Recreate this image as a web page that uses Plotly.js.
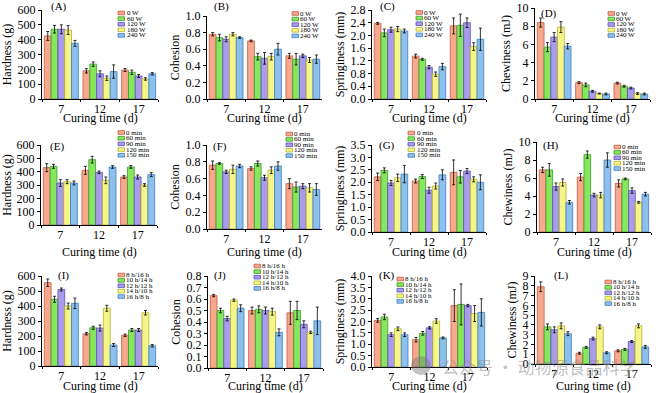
<!DOCTYPE html>
<html><head><meta charset="utf-8">
<script src="https://cdn.plot.ly/plotly-3.0.1.min.js"></script>
<style>html,body{margin:0;padding:0;background:#fff}#chart{width:660px;height:393px}</style>
</head><body><div id="chart"></div>
<script>
// ---------- data ----------
const categories = ['7', '12', '17'];
const powerNames = ['0 W', '60 W', '120 W', '180 W', '240 W'];
const timeNames = ['0 min', '60 min', '90 min', '120 min', '150 min'];
const photoNames = ['8 h/16 h', '10 h/14 h', '12 h/12 h', '14 h/10 h', '16 h/8 h'];
const panelLetters = ['(A)','(B)','(C)','(D)','(E)','(F)','(G)','(H)','(I)','(J)','(K)','(L)'];
const yTitles = ['Hardness (g)','Cohesion','Springiness (mm)','Chewiness (mJ)'];
const xTitle = 'Curing time (d)';

// each row = one series, values for days 7, 12, 17
const A_mean = [[425,190,195],[470,235,180],[470,170,155],[465,140,135],[375,185,170]];
const A_err  = [[30,15,10],[25,15,15],[30,20,10],[30,15,8],[20,45,8]];
const B_mean = [[0.78,0.70,0.52],[0.74,0.51,0.48],[0.72,0.49,0.52],[0.78,0.51,0.47],[0.74,0.60,0.48]];
const B_err  = [[0.02,0.01,0.03],[0.04,0.04,0.07],[0.03,0.07,0.02],[0.02,0.04,0.03],[0.01,0.07,0.05]];
const C_mean = [[2.38,1.35,2.30],[2.08,1.25,2.32],[2.18,1.00,2.40],[2.20,0.78,1.65],[2.14,1.02,1.88]];
const C_err  = [[0.03,0.06,0.25],[0.12,0.03,0.35],[0.08,0.05,0.15],[0.08,0.07,0.12],[0.06,0.10,0.35]];
const D_mean = [[8.4,1.8,1.75],[5.7,1.55,1.4],[6.8,0.85,1.2],[7.9,0.6,0.6],[5.8,0.55,0.55]];
const D_err  = [[0.5,0.1,0.1],[0.5,0.2,0.1],[0.5,0.1,0.1],[0.6,0.05,0.1],[0.3,0.1,0.1]];
const E_mean = [[430,410,360],[440,490,435],[315,395,360],[325,335,300],[315,435,378]];
const E_err  = [[30,30,10],[15,25,10],[25,10,15],[15,25,10],[15,10,15]];
const F_mean = [[0.76,0.72,0.54],[0.78,0.78,0.50],[0.68,0.61,0.51],[0.71,0.70,0.49],[0.75,0.75,0.47]];
const F_err  = [[0.05,0.02,0.06],[0.01,0.03,0.06],[0.02,0.03,0.03],[0.05,0.04,0.05],[0.02,0.05,0.07]];
const G_mean = [[2.22,2.05,2.40],[2.48,2.23,2.22],[1.97,1.68,2.45],[2.18,1.85,2.12],[2.33,2.30,2.00]];
const G_err  = [[0.15,0.08,0.50],[0.10,0.08,0.25],[0.10,0.12,0.10],[0.15,0.12,0.10],[0.35,0.20,0.30]];
const H_mean = [[6.9,6.1,5.4],[6.9,8.6,5.9],[5.05,4.1,4.6],[5.5,4.1,3.3],[3.3,8.0,4.2]];
const H_err  = [[0.3,0.4,0.4],[0.7,0.4,0.1],[0.4,0.2,0.3],[0.4,0.3,0.1],[0.2,0.8,0.2]];
const I_mean = [[555,215,205],[445,255,240],[510,253,240],[400,385,355],[418,140,135]];
const I_err  = [[25,8,8],[20,10,10],[10,20,10],[20,20,15],[35,10,8]];
const J_mean = [[0.63,0.50,0.48],[0.50,0.51,0.50],[0.43,0.50,0.38],[0.59,0.49,0.31],[0.52,0.31,0.41]];
const J_err  = [[0.01,0.03,0.10],[0.02,0.03,0.08],[0.02,0.03,0.03],[0.01,0.03,0.01],[0.03,0.03,0.12]];
const K_mean = [[2.05,1.20,2.70],[2.20,1.48,2.75],[1.42,1.72,2.70],[1.68,2.02,2.35],[1.42,1.28,2.40]];
const K_err  = [[0.08,0.10,0.70],[0.12,0.08,0.90],[0.08,0.05,0.05],[0.08,0.10,0.35],[0.08,0.04,0.60]];
const L_mean = [[7.9,1.1,1.35],[3.8,1.7,1.5],[3.5,2.6,2.3],[3.9,3.8,3.9],[3.1,1.15,1.75]];
const L_err  = [[0.5,0.1,0.1],[0.3,0.1,0.1],[0.3,0.15,0.1],[0.3,0.2,0.2],[0.2,0.1,0.15]];

// ---------- styling / layout geometry ----------
const W = 660, H = 393;
const px = x => x / W, py = y => 1 - y / H;
const fills = ['#F6A98C', '#86E65E', '#A89CEB', '#F6F58A', '#8DC0EC'];
const lines = ['#C65A45', '#3E9A2A', '#5E50BE', '#B5B52A', '#3F7FC0'];
const FONT = 'Liberation Serif, Times New Roman, serif';

const means = [A_mean,B_mean,C_mean,D_mean,E_mean,F_mean,G_mean,H_mean,I_mean,J_mean,K_mean,L_mean];
const errs  = [A_err,B_err,C_err,D_err,E_err,F_err,G_err,H_err,I_err,J_err,K_err,L_err];
const names = [powerNames,timeNames,photoNames];
const yRanges = [[0,600,100],[0,1.0,0.2],[0,2.8,0.4],[0,10,2],
                 [0,600,100],[0,1.0,0.2],[0,3.5,0.5],[0,10,2],
                 [0,600,100],[0,0.8,0.1],[0,4.0,0.5],[0,9,1]];
const yFormats = ['d','.1f','.1f','d','d','.1f','.1f','d','d','.1f','.1f','d'];
// plot areas in pixels: [left, right, top, bottom]
const boxes = [[42,158,10,99],[207,322,16,99],[372,486,10,99],[535,650,8,99],
               [41,157,145,225],[207,322,145,229],[372,486,145,232],[537,651,142,232],
               [42,158,276,366],[208,323,276,368],[372,487,276,367],[535,651,276,364]];
const xTitleY = [118,252,386];
// panel label positions [x, y]
const labelPos = [[49,7],[212,7],[378,7],[539,13],[48,146],[211,146],[377,145],[541,145],[56,275],[212,275],[377,275],[552,275]];
// legend: [swatch x, text x, first row y, row step]
const legendPos = [[118,125,13,5.6],[292,298,13.5,5.6],[416,422,12.5,5.6],[608,614,13.5,5.5],
                   [118,124,132.5,5.7],[286,292,134,5.4],[408,415,133,5.6],[614,620,147,5.4],
                   [118,124,275,5.4],[254,260,266,5.6],[397,403,279,5.6],[605,611,282,5.4]];

const traces = [];
const layout = {
  width: W, height: H, margin: {l:0, r:0, t:0, b:0},
  paper_bgcolor: '#fff', plot_bgcolor: 'rgba(0,0,0,0)',
  barmode: 'group', bargap: 0.12, bargroupgap: 0,
  showlegend: false, font: {family: FONT, color: '#000', size: 11},
  annotations: [], shapes: []
};

for (let p = 0; p < 12; p++) {
  const n = p === 0 ? '' : String(p + 1);
  const b = boxes[p];
  const rg = yRanges[p];
  const ser = names[Math.floor(p / 4)];
  for (let s = 0; s < 5; s++) {
    traces.push({
      type: 'bar', x: categories, y: means[p][s], name: ser[s],
      xaxis: 'x' + n, yaxis: 'y' + n,
      marker: {color: fills[s], line: {color: lines[s], width: 0.8}},
      error_y: {type: 'data', array: errs[p][s], visible: true, color: '#000', thickness: 0.8, width: 1.5},
      hoverinfo: 'skip'
    });
  }
  layout['xaxis' + n] = {
    domain: [px(b[0]), px(b[1])], anchor: 'y' + n, type: 'category',
    range: [-0.5, 2.5], showline: true, linecolor: '#000', linewidth: 1,
    ticks: 'outside', tickson: 'boundaries', ticklen: 2, tickcolor: '#000',
    tickfont: {size: 12}, showgrid: false, zeroline: false, ticklabelstandoff: -1
  };
  layout['yaxis' + n] = {
    domain: [py(b[3]), py(b[2])], anchor: 'x' + n,
    range: [rg[0], rg[1]], tick0: 0, dtick: rg[2], tickformat: yFormats[p],
    showline: true, linecolor: '#000', linewidth: 1,
    ticks: 'outside', ticklen: 3, tickcolor: '#000',
    tickfont: {size: 12}, showgrid: false, zeroline: false,
    title: {text: yTitles[p % 4], font: {size: 12}, standoff: 3}
  };
  layout.annotations.push({
    xref: 'paper', yref: 'paper', x: px((b[0] + b[1]) / 2), y: py(xTitleY[Math.floor(p / 4)]),
    xanchor: 'center', yanchor: 'middle', text: xTitle, showarrow: false,
    font: {size: 12}
  });
  layout.annotations.push({
    xref: 'paper', yref: 'paper', x: px(labelPos[p][0]), y: py(labelPos[p][1]),
    xanchor: 'left', yanchor: 'middle', text: panelLetters[p], showarrow: false,
    font: {size: 11}
  });
  const lg = legendPos[p];
  for (let s = 0; s < 5; s++) {
    const yc = lg[2] + s * lg[3];
    layout.shapes.push({
      type: 'rect', xref: 'paper', yref: 'paper',
      x0: px(lg[0]), x1: px(lg[0] + 6.5), y0: py(yc + 1.8), y1: py(yc - 1.8),
      fillcolor: fills[s], line: {color: lines[s], width: 0.8}
    });
    layout.annotations.push({
      xref: 'paper', yref: 'paper', x: px(lg[1]), y: py(yc),
      xanchor: 'left', yanchor: 'middle', text: ser[s], showarrow: false,
      font: {size: 7}
    });
  }
}

// watermark
layout.shapes.push({type: 'circle', xref: 'paper', yref: 'paper',
  x0: px(411), x1: px(431), y0: py(375), y1: py(356),
  fillcolor: 'rgba(120,120,120,0.45)', line: {width: 0}});
layout.annotations.push({xref: 'paper', yref: 'paper', x: px(440), y: py(366),
  xanchor: 'left', yanchor: 'middle', showarrow: false,
  text: '公众号 · 动物源食品科学',
  font: {family: 'Noto Sans CJK SC', size: 17, color: 'rgba(140,140,140,0.55)'}});

Plotly.newPlot('chart', traces, layout, {staticPlot: true, displayModeBar: false});
</script>
</body></html>
